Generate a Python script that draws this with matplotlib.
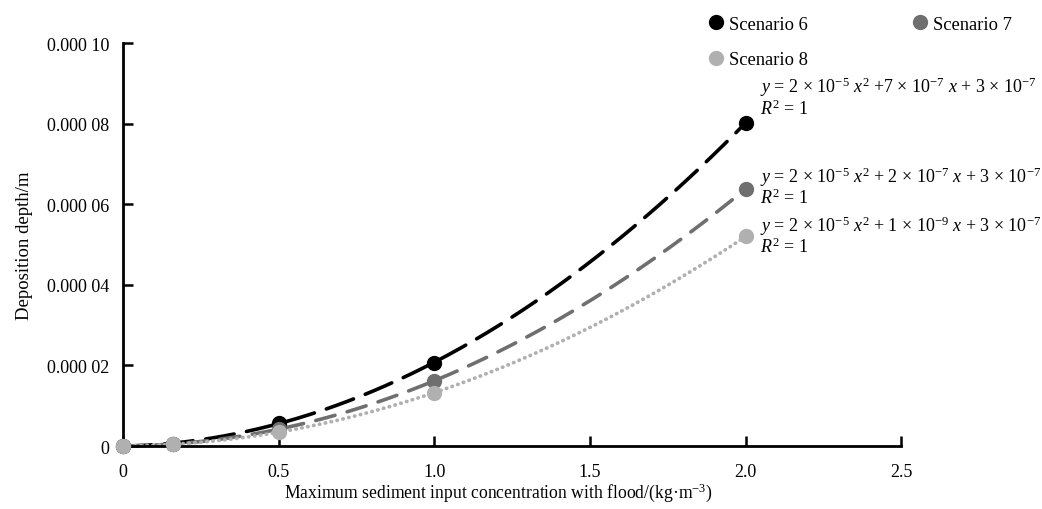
import numpy as np
import matplotlib
matplotlib.use("Agg")
from matplotlib import pyplot as plt
from matplotlib.lines import Line2D

plt.rcParams['font.family'] = ['Liberation Serif', 'DejaVu Serif']
plt.rcParams['mathtext.fontset'] = 'custom'
plt.rcParams['mathtext.rm'] = 'Liberation Serif'
plt.rcParams['mathtext.it'] = 'Liberation Serif:italic'

# sediment concentration (kg/m3) vs deposition depth (m)
conc = [0, 0.16, 0.5, 1.0, 2.0]
depth_s6 = [0, 0.6e-6, 5.7e-6, 2.07e-5, 8.02e-5]
depth_s7 = [0, 0.5e-6, 4.3e-6, 1.61e-5, 6.38e-5]
depth_s8 = [0, 0.4e-6, 3.5e-6, 1.32e-5, 5.2e-5]

names = ['Scenario 6', 'Scenario 7', 'Scenario 8']
equations = [
    r'$y$ = 2 × 10$^{-5}$ $x^2$ +7 × 10$^{-7}$ $x$ + 3 × 10$^{-7}$' + '\n' + r'$R^2$ = 1',
    r'$y$ = 2 × 10$^{-5}$ $x^2$ + 2 × 10$^{-7}$ $x$ + 3 × 10$^{-7}$' + '\n' + r'$R^2$ = 1',
    r'$y$ = 2 × 10$^{-5}$ $x^2$ + 1 × 10$^{-9}$ $x$ + 3 × 10$^{-7}$' + '\n' + r'$R^2$ = 1',
]
yticks = [0, 0.00002, 0.00004, 0.00006, 0.00008, 0.0001]
ytick_labels = ['0', '0.000 02', '0.000 04', '0.000 06', '0.000 08', '0.000 10']
xticks = [0, 0.5, 1.0, 1.5, 2.0, 2.5]
xtick_labels = ['0', '0.5', '1.0', '1.5', '2.0', '2.5']

colors = ['#000000', '#6f6f6f', '#b0b0b0']
styles = [(0, (8, 3.5)), (0, (5.5, 3.5)), (0, (0.1, 1.5))]
widths = [2.6, 2.6, 2.7]
label_y = [8.68e-5, 6.45e-5, 5.24e-5]

fig = plt.figure(figsize=(10.42, 5.1), dpi=100)
ax = fig.add_axes([0.118, 0.1235, 0.747, 0.7902])

xs = np.linspace(0, 2.0, 200)
for i, d in enumerate([depth_s6, depth_s7, depth_s8]):
    # quadratic trend line through each scenario
    p = np.polyfit(conc, d, 2)
    ax.plot(xs, np.polyval(p, xs), color=colors[i], linestyle=styles[i],
            linewidth=widths[i], dash_capstyle='round', zorder=2)
for i, d in enumerate([depth_s6, depth_s7, depth_s8]):
    ax.plot(conc, d, 'o', color=colors[i], markersize=10, zorder=3)
    ax.text(2.045, label_y[i], equations[i], fontsize=13, va='center',
            ha='left', linespacing=1.0)

ax.set_xlim(0, 2.5)
ax.set_ylim(0, 0.0001)
ax.set_xticks(xticks)
ax.set_xticklabels(xtick_labels)
ax.set_yticks(yticks)
ax.set_yticklabels(ytick_labels)
ax.tick_params(direction='in', length=7, width=1.8, labelsize=13, pad=12)
ax.tick_params(axis='y', pad=10)
for s in ['top', 'right']:
    ax.spines[s].set_visible(False)
for s in ['left', 'bottom']:
    ax.spines[s].set_linewidth(2.0)
for ln in ax.lines:
    ln.set_clip_on(False)

ax.set_xlabel('Maximum sediment input concentration with flood/(kg·m$^{-3}$)',
              fontsize=12.7, labelpad=6)
ax.xaxis.set_label_coords(0.482, -0.085)
ax.set_ylabel('Deposition depth/m', fontsize=13.5, labelpad=10)

# legend fills column by column: order so row 1 reads 6, 7 and row 2 reads 8
handles = [Line2D([], [], marker='o', linestyle='none', color=c, markersize=10)
           for c in colors]
order = [0, 2, 1]
fig.legend([handles[k] for k in order], [names[k] for k in order],
           loc='upper left', bbox_to_anchor=(0.662, 1.0),
           ncol=2, frameon=False, fontsize=13.3, handletextpad=0.2,
           columnspacing=5.6, labelspacing=1.0, handlelength=1.0)

fig.savefig('out.png', dpi=100)
